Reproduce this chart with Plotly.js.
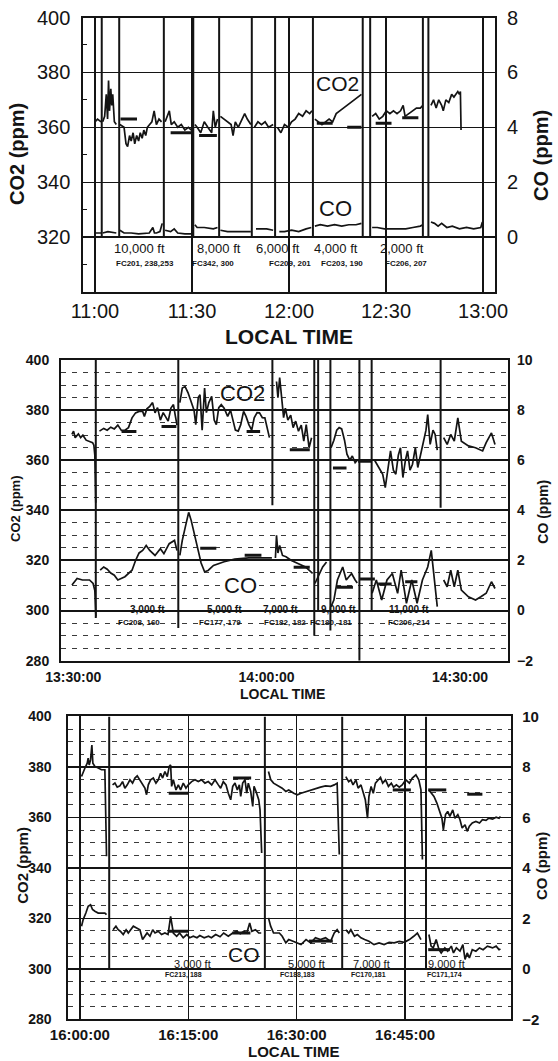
<!DOCTYPE html>
<html><head><meta charset="utf-8">
<script src="https://cdn.plot.ly/plotly-3.0.1.min.js"></script>
<style>html,body{margin:0;padding:0;background:#fff}#chart{width:558px;height:1061px}</style>
</head><body><div id="chart"></div>
<script>
// ---------------- DATA (time in minutes after the first tick of each panel) ----------------
// Panel 1 : 11:00 - 13:00
const p1_ticks = [0, 30, 60, 90, 120];
const p1_tick_labels = ['11:00', '11:30', '12:00', '12:30', '13:00'];
const p1_co2_t = [0.0,0.8,1.9,null,
 2.4,3.0,3.5,3.9,4.2,4.5,4.9,5.2,5.5,6.0,6.6,null,
 7.7,9.0,9.6,10.1,10.7,11.2,11.8,12.3,12.9,13.5,14.0,14.6,15.1,15.7,16.2,16.8,17.6,18.3,19.0,19.8,20.6,null,
 21.7,22.3,23.0,23.6,24.5,25.6,26.7,27.8,28.9,29.8,null,
 30.9,31.6,32.7,33.8,34.9,36.1,36.6,37.2,37.9,null,
 38.8,39.9,41.0,42.1,42.7,43.4,44.3,45.4,46.3,47.1,48.2,null,
 49.3,50.4,51.5,52.6,53.7,55.1,null,
 56.4,57.5,58.6,59.8,60.8,61.9,63.0,64.2,65.3,66.4,67.1,null,
 68.0,69.1,70.2,71.3,72.4,73.5,74.6,75.7,76.8,78.0,79.1,80.2,81.3,82.4,null,
 85.7,86.8,87.9,89.0,90.1,91.2,92.3,93.4,94.5,95.3,95.9,97.0,98.3,99.4,100.6,101.4,null,
 103.9,104.7,105.5,106.3,107.2,107.7,108.5,109.4,110.3,111.0,112.2,112.7,113.0,113.2];
const p1_co2 = [362,363,362,null,
 362,364,372,363,377,366,374,368,372,362,361,null,
 361,360,354,353,357,355,358,354,357,355,358,356,359,357,360,361,362,366,361,363,362,null,
 362,364,366,361,362,360,361,359,360,359,null,
 361,360,358,362,360,358,366,360,363,null,
 364,363,362,361,357,362,360,363,365,363,361,null,
 360,362,361,362,360,361,null,
 360,358,361,360,362,363,365,364,366,365,366,null,
 363,362,361,362,363,362,365,366,367,368,369,370,371,372,null,
 364,365,363,364,366,365,366,365,366,368,364,365,366,367,367,368,null,
 368,370,367,370,368,366,370,369,372,371,373,372,373,359];
const p1_co_t = [0.2,1.9,null,
 2.4,4.0,6.6,null,
 7.7,9.0,11.2,13.5,16.8,17.9,18.4,19.0,20.1,20.8,null,
 21.7,23.4,24.5,25.6,27.8,29.8,null,
 30.9,31.6,33.8,36.6,37.9,null,
 38.8,41.0,43.2,46.5,48.2,null,
 49.8,51.5,53.1,55.1,null,
 57.0,58.6,60.8,63.0,65.3,66.9,null,
 68.0,69.7,71.9,74.1,76.3,78.5,80.7,82.4,null,
 85.7,87.3,89.5,91.7,93.9,96.1,98.3,100.6,101.4,null,
 103.9,105.0,106.1,107.2,108.8,110.5,112.7,114.9,117.1,119.3,119.8];
const p1_co = [0.15,0.15,null,
 0.15,0.2,0.15,null,
 0.25,0.15,0.15,0.12,0.15,0.35,0.15,0.15,0.2,0.5,null,
 0.25,0.2,0.3,0.15,0.12,0.12,null,
 0.45,0.35,0.35,0.3,0.35,null,
 0.25,0.2,0.2,0.2,0.2,null,
 0.3,0.3,0.3,0.25,null,
 0.2,0.2,0.25,0.2,0.3,0.35,null,
 0.4,0.45,0.4,0.45,0.4,0.45,0.45,0.5,null,
 0.35,0.35,0.3,0.3,0.3,0.3,0.35,0.4,0.45,null,
 0.55,0.5,0.4,0.5,0.35,0.4,0.3,0.35,0.3,0.35,0.55];
const p1_cal_t = [2.1, 7.5, 21.3, 30.4, 38.4, 48.5, 55.7, 67.4, 82.8, 85.1, 101.4, 103.1];
const p1_flask_t0 = [7.9, 23.4, 32.2, 68.6, 78.0, 86.8, 95.0];
const p1_flask_t1 = [13.0, 30.0, 37.7, 73.5, 82.4, 91.7, 100.0];
const p1_flask_co2 = [363, 358, 357, 361.5, 360, 361.5, 363.5];
const p1_alt_labels = ['10,000 ft', '8,000 ft', '6,000 ft', '4,000 ft', '2,000 ft'];
const p1_alt_t = [13.9, 38.4, 56.6, 74.5, 95.0];
const p1_fc_labels = ['FC201, 238,253', 'FC342, 300', 'FC209, 201', 'FC203, 190', 'FC206, 207'];
const p1_fc_t = [15.5, 36.5, 60.3, 76.4, 96.1];

// Panel 2 : 13:30 - 14:35
const p2_ticks = [0, 30, 60];
const p2_tick_labels = ['13:30:00', '14:00:00', '14:30:00'];
const p2_co2_t = [-0.2,0.05,0.3,0.8,1.15,1.5,2.0,2.5,3.0,3.2,3.35,3.5,null,
 4.07,4.73,5.27,5.82,6.37,6.92,7.47,8.02,8.57,9.12,9.67,10.22,10.77,11.04,11.43,11.87,12.31,12.69,13.08,13.52,13.96,14.34,14.73,15.16,15.55,15.82,16.1,null,
 16.54,16.92,17.36,17.8,18.19,18.74,19.01,19.4,19.67,20.0,20.38,20.66,21.04,21.48,21.87,22.2,22.58,22.97,23.41,23.96,24.4,24.78,25.16,25.6,25.99,26.43,26.81,27.25,27.69,28.08,28.52,28.9,29.34,29.73,30.11,30.44,null,
 31.54,31.76,32.03,32.31,32.64,32.91,33.3,33.74,34.12,34.51,34.95,35.38,35.77,36.15,36.59,36.98,null,
 40.0,40.44,40.88,41.26,41.65,42.09,42.47,42.91,43.3,43.74,44.07,null,
 46.76,47.14,47.58,48.02,48.41,48.79,49.23,49.67,50.05,50.44,50.77,51.15,51.54,51.87,52.25,52.64,53.08,53.46,53.9,54.29,54.73,55.0,55.38,55.82,56.15,56.48,null,
 57.47,58.02,58.57,59.12,59.67,60.22,61.32,62.42,63.52,64.07,64.89,65.44];
const p2_co2 = [370.3,371.6,369,370.5,369,370,368,367.6,367,366,362,343,null,
 371.6,372.7,372,373.2,372.5,374,371.9,372,373,376.9,378.9,379.5,379.5,377.5,380.5,381.5,383,378.9,381,376,379,377.5,375.6,380.8,382.2,378,374,null,
 383,388.8,389.4,387,384.1,380,374.2,385,386.1,372,388.8,379,383,385.5,376,374.2,381,382.2,380.8,377.5,380,375.6,372,371.6,374.2,379.5,377.5,374.2,372,376.9,379,378.9,377,376.9,372,369,null,
 391.4,385,393,384.8,377,380.8,376,378,373,375.6,371.6,374,367.6,374.2,365,369,null,
 365,368,372,373,372.5,368,362.4,360,361.7,359,360,null,
 360,358.4,356,354.4,349.1,355,363.7,356,354.4,362,365,353.1,360,363.7,356,358.4,365,357.1,362,367.6,372,378.2,366.3,372,370.3,364,null,
 369,366.3,370.3,367.6,376.9,367.6,365.7,365,363.7,367,370.9,366.3];
const p2_co_t = [-0.2,0.6,1.43,2.53,3.08,3.35,3.52,null,
 4.18,4.73,5.27,5.82,6.37,6.92,8.02,9.12,9.67,10.22,10.77,11.32,11.87,12.69,13.52,14.07,14.89,15.71,16.1,null,
 16.54,16.92,17.36,17.91,18.3,18.74,19.29,19.84,20.38,20.93,21.76,23.41,25.05,27.25,29.45,30.82,null,
 31.37,31.54,31.76,32.03,32.47,33.02,33.85,34.95,36.04,37.14,null,
 37.5,38.2,38.7,39.3,null,
 40.0,40.44,40.99,41.81,42.36,43.19,43.74,44.07,null,
 46.37,47.03,47.86,48.68,49.51,50.33,50.88,51.7,52.53,53.35,54.18,55.0,55.55,56.1,56.48,null,
 57.47,58.02,58.57,59.12,59.67,60.22,61.32,62.42,63.24,64.07,64.89,65.44];
const p2_co = [1.02,1.28,1.22,1.22,1.08,0.8,-0.24,null,
 1.61,1.74,1.65,1.5,1.41,1.22,1.35,1.61,2.0,2.3,2.4,2.6,2.4,2.2,2.47,2.27,2.67,2.8,2.4,null,
 2.2,2.8,3.3,3.92,3.6,3.1,2.5,1.9,1.55,1.6,1.8,1.95,2.05,2.1,2.1,2.1,null,
 2.1,3.0,2.3,2.6,2.2,2.15,2.0,1.87,1.74,1.48,null,
 1.08,1.5,1.74,1.94,null,
 0.16,0.42,1.22,1.74,1.22,1.48,1.22,1.1,null,
 0.69,1.22,0.42,1.22,1.48,0.69,1.61,0.29,1.22,0.29,1.22,1.74,2.4,1.22,0.16,null,
 1.22,0.95,1.61,0.95,1.61,0.82,0.55,0.42,0.55,0.69,1.15,0.88];
const p2_cal_t = [3.5, 16.3, 30.9, 37.4, 38.0, 39.9, 44.4, 46.3, 57.0];
const p2_cal_low = [297, 293, 342, 290, 300, 292, 280, 300, 341];
const p2_flask_t0 = [7.5, 13.7, 26.9, 33.6, 40.3, 44.2];
const p2_flask_t1 = [9.8, 16.0, 29.0, 36.7, 42.4, 46.3];
const p2_flask_co2 = [371.5, 373.5, 371.5, 364.2, 356.9, 359.6];
const p2_cof_t0 = [19.7, 26.6, 34.2, 40.9, 44.5, 47.3, 51.5];
const p2_cof_t1 = [22.2, 29.2, 36.7, 43.4, 46.8, 49.4, 53.4];
const p2_flask_co = [2.49, 2.21, 1.73, 0.93, 1.26, 1.06, 1.15];
const p2_alt_labels = ['3,000 ft', '5,000 ft', '7,000 ft', '9,000 ft', '11,000 ft'];
const p2_alt_t = [11.5, 23.4, 32.2, 41.1, 52.1];
const p2_fc_labels = ['FC208, 160', 'FC177, 179', 'FC182, 182', 'FC180, 181', 'FC206, 214'];
const p2_fc_t = [10.2, 22.8, 32.8, 40.0, 52.1];

// Panel 3 : 16:00 - 17:00
const p3_ticks = [0, 15, 30, 45];
const p3_tick_labels = ['16:00:00', '16:15:00', '16:30:00', '16:45:00'];
const p3_co2_t = [0.23,0.46,0.69,1.02,1.15,1.29,1.48,1.66,1.8,2.08,2.54,3.0,3.46,3.69,null,
 4.52,4.85,5.17,5.54,5.91,6.23,6.56,6.93,7.29,7.62,7.94,8.31,8.68,9.0,9.23,9.47,9.79,10.16,10.53,10.85,11.17,11.45,11.77,12.09,12.37,12.56,12.7,12.93,13.3,13.62,13.94,14.31,14.68,15.0,15.47,15.93,16.39,16.85,17.31,17.77,18.24,18.7,19.16,19.48,19.85,20.22,20.54,20.87,21.15,21.47,21.79,22.07,22.26,22.53,22.85,23.09,23.31,23.64,23.92,24.1,24.38,24.56,24.75,24.93,25.16,null,
 26.1,26.4,26.8,27.2,27.6,28.0,28.5,28.9,29.6,30.1,30.6,31.3,31.95,32.6,33.3,34.0,34.7,35.2,35.6,35.9,null,
 36.8,37.2,37.5,37.8,38.2,38.5,38.9,39.2,39.5,39.8,40.0,40.3,40.6,40.9,41.3,41.6,41.9,42.3,42.7,43.1,43.4,43.8,44.2,44.6,45.1,45.6,46.0,46.5,46.9,47.2,47.4,null,
 48.3,48.7,49.0,49.4,49.7,50.1,50.3,50.6,50.9,51.2,51.6,51.9,52.3,52.6,52.9,53.3,53.6,53.9,54.3,54.8,55.3,55.7,56.2,56.6,57.1,57.6,58.0,58.2];
const p3_co2 = [376.2,378.2,379.5,381.5,383.5,380.8,382.8,388.7,381.5,380.2,379.5,378.9,378.9,344.6,null,
 372.9,373.6,372,372.5,374.2,371.6,372.9,374.9,373.6,375.6,376.5,374.9,372.9,371.6,369,372.9,374.9,375.6,373.6,374.9,377.5,375.6,378.2,376.2,380.2,380.8,372.3,374.9,370.9,372.9,370.9,373.6,371.6,372.9,374.2,374.9,374.2,374.9,373.6,374.2,372.9,374.9,372.9,371.6,374.2,372.9,369.6,367,372.3,373.6,370.9,372.9,368.3,373.6,374.9,369.6,373.6,370.3,364.4,372.3,370.3,368.3,367,363,345.9,null,
 378.2,375,373.6,372.9,372.3,371.6,370.3,370.9,369.6,369,369.6,370.3,370.9,371.6,372,372.5,372.3,372.9,373.6,345.3,null,
 376.2,374.2,374.9,372.9,374.9,371.6,372.9,369.6,367,359.7,368.3,372.3,369.6,373.6,374.9,375.9,373.6,374.9,372.3,373.6,372,372.9,372,372.9,374.9,373.6,375.6,376.9,374.9,370.9,343.3,null,
 370.9,369.6,368.3,365.7,363,359.7,355.1,361.1,362.4,360.4,363,359.7,361.1,359.1,355.8,357.1,354.5,356.5,357.8,358.4,357.8,359.1,358.8,359.7,359.3,360.1,359.7,360.4];
const p3_co_t = [0.23,0.46,0.83,1.15,1.48,1.75,2.08,2.54,3.0,3.46,3.69,null,
 4.6,4.99,5.3,5.6,6.0,6.4,6.7,7.0,7.4,7.85,8.31,8.68,9.0,9.3,9.7,10.08,10.4,10.85,11.3,11.77,12.2,12.56,12.93,13.4,13.8,14.3,14.8,15.2,15.7,16.2,16.6,17.2,17.8,18.2,18.8,19.4,19.9,20.54,21.15,21.7,22.2,22.7,23.1,23.5,23.8,24.3,24.75,25.1,null,
 26.1,26.4,26.8,27.2,27.6,28.0,28.5,28.9,29.6,30.1,30.6,31.3,31.95,32.6,33.3,34.0,34.7,35.2,35.6,35.9,null,
 36.8,37.2,37.5,38.0,38.4,38.9,39.4,40.0,40.7,41.4,42.1,42.8,43.5,44.2,44.9,45.6,46.2,46.7,47.2,null,
 48.3,48.6,48.9,49.3,49.7,50.0,50.5,50.9,51.4,51.7,52.1,52.6,53.0,53.3,53.6,53.9,54.3,54.8,55.3,55.8,56.4,57.1,57.6,58.0,58.2];
const p3_co = [1.69,1.95,2.21,2.48,2.54,2.35,2.28,2.21,2.21,2.21,2.15,null,
 1.55,1.69,1.55,1.49,1.36,1.55,1.42,1.55,1.69,1.62,1.55,1.16,1.29,1.42,1.29,1.55,1.42,1.49,1.36,1.42,1.36,2.08,1.42,1.29,1.42,1.23,1.36,1.23,1.29,1.23,1.32,1.23,1.29,1.23,1.36,1.27,1.42,1.29,1.42,1.49,1.39,1.49,1.42,1.82,1.49,1.55,1.42,1.42,null,
 2.02,1.69,1.42,1.42,1.42,1.29,1.03,1.16,1.09,1.03,0.96,1.16,1.03,1.23,1.16,1.23,1.09,1.42,1.55,1.42,null,
 1.55,1.42,1.55,1.29,1.36,1.23,1.16,1.09,0.96,1.03,0.96,1.05,1.03,1.09,1.05,1.16,1.29,1.42,1.16,null,
 1.36,0.9,0.83,1.16,0.76,0.63,0.83,0.7,0.9,0.63,0.83,0.7,0.96,0.37,0.63,0.43,0.76,0.7,0.83,0.76,0.9,0.83,0.9,0.76,0.79];
const p3_cal_t = [4.06, 25.6, 36.3, 47.9];
const p3_flask_t0 = [12.3, 21.2, 43.3, 48.2, 53.6];
const p3_flask_t1 = [15.0, 23.7, 45.8, 50.7, 55.7];
const p3_flask_co2 = [369.6, 375.6, 370.9, 370.9, 369.2];
const p3_cof_t0 = [12.3, 21.1, 31.7, 48.2];
const p3_cof_t1 = [15.0, 23.6, 35.0, 51.2];
const p3_flask_co = [1.49, 1.42, 1.1, 0.76];
const p3_alt_labels = ['3,000 ft', '5,000 ft', '7,000 ft', '9,000 ft'];
const p3_alt_t = [15.65, 31.3, 40.3, 50.7];
const p3_fc_labels = ['FC213, 188', 'FC188,183', 'FC170,181', 'FC171,174'];
const p3_fc_t = [14.4, 30.1, 39.9, 50.4];

// ---------------- BUILD ----------------
const FONT = 'Liberation Sans, Arial, Helvetica, sans-serif';
const INK = '#141414';

function line(x, y, xa, ya, w) {
  return {type: 'scatter', mode: 'lines', x: x, y: y, xaxis: xa, yaxis: ya,
          line: {color: INK, width: w}, connectgaps: false, hoverinfo: 'skip'};
}
function calTrace(ts, lows, high, xa, ya) {
  const x = [], y = [];
  ts.forEach((t, i) => { x.push(t, t, null); y.push(Array.isArray(lows) ? lows[i] : lows, high, null); });
  return line(x, y, xa, ya, 2);
}
function barTrace(t0, t1, v, xa, ya) {
  const x = [], y = [];
  v.forEach((val, i) => { x.push(t0[i], t1[i], null); y.push(val, val, null); });
  return line(x, y, xa, ya, 3);
}

const traces = [
  line(p1_co2_t, p1_co2, 'x', 'y', 1.7),
  line(p1_co_t, p1_co, 'x', 'y2', 1.7),
  calTrace(p1_cal_t, 320, 400, 'x', 'y'),
  barTrace(p1_flask_t0, p1_flask_t1, p1_flask_co2, 'x', 'y'),

  line(p2_co2_t, p2_co2, 'x2', 'y3', 1.7),
  line(p2_co_t, p2_co, 'x2', 'y4', 1.7),
  calTrace(p2_cal_t, p2_cal_low, 400, 'x2', 'y3'),
  barTrace(p2_flask_t0, p2_flask_t1, p2_flask_co2, 'x2', 'y3'),
  barTrace(p2_cof_t0, p2_cof_t1, p2_flask_co, 'x2', 'y4'),

  line(p3_co2_t, p3_co2, 'x3', 'y5', 1.7),
  line(p3_co_t, p3_co, 'x3', 'y6', 1.7),
  calTrace(p3_cal_t, 300, 400, 'x3', 'y5'),
  barTrace(p3_flask_t0, p3_flask_t1, p3_flask_co2, 'x3', 'y5'),
  barTrace(p3_cof_t0, p3_cof_t1, p3_flask_co, 'x3', 'y6')
];

function tf(size, bold) { return {family: FONT, size: size, color: INK, weight: bold ? 'bold' : 'normal'}; }

const baseX = {showline: true, linecolor: INK, linewidth: 2, mirror: true, zeroline: false,
  ticks: 'outside', tickcolor: 'rgba(0,0,0,0)', fixedrange: true, tickmode: 'array'};
const baseY = {showline: true, linecolor: INK, linewidth: 2, mirror: true, zeroline: false,
  ticks: 'outside', tickcolor: 'rgba(0,0,0,0)', fixedrange: true, tickmode: 'array', gridcolor: INK};
const baseR = {overlaying: null, side: 'right', showgrid: false, zeroline: false, showline: false,
  ticks: 'outside', tickcolor: 'rgba(0,0,0,0)', fixedrange: true, tickmode: 'array'};

const layout = {
  width: 558, height: 1061, margin: {l: 0, r: 0, t: 0, b: 0},
  paper_bgcolor: '#fff', plot_bgcolor: '#fff', showlegend: false,
  // Panel 1
  xaxis: Object.assign({}, baseX, {domain: [0.1493, 0.8871], range: [-3.6, 123.7], anchor: 'y',
    tickvals: p1_ticks, ticktext: p1_tick_labels, ticks: '', ticklen: 0, showgrid: true, gridcolor: INK, gridwidth: 1.3,
    tickfont: tf(20, false)}),
  yaxis: Object.assign({}, baseY, {domain: [0.7248, 0.9835], range: [300, 400], anchor: 'x',
    tickvals: [320, 340, 360, 380, 400], ticklen: 7, showgrid: true, gridwidth: 1.3, tickfont: tf(20, false),
    minor: {tickvals: [310, 330, 350, 370, 390], ticks: 'inside', ticklen: 4, tickcolor: INK, showgrid: false}}),
  yaxis2: Object.assign({}, baseR, {overlaying: 'y', anchor: 'x', range: [-2, 8],
    tickvals: [0, 2, 4, 6, 8], ticklen: 7, tickfont: tf(20, false)}),
  // Panel 2
  xaxis2: Object.assign({}, baseX, {domain: [0.1093, 0.9109], range: [-1.9, 67.5], anchor: 'y3',
    tickvals: p2_ticks, ticktext: p2_tick_labels, ticklen: 3, showgrid: false, tickfont: tf(14, true)}),
  yaxis3: Object.assign({}, baseY, {domain: [0.3773, 0.6607], range: [280, 400], anchor: 'x2',
    tickvals: [280, 300, 320, 340, 360, 380, 400], ticklen: 7, showgrid: true, gridwidth: 2, tickfont: tf(14, true),
    minor: {dtick: 5, showgrid: true, gridcolor: '#3a3a3a', gridwidth: 1, griddash: '5px,6px', ticks: ''}}),
  yaxis4: Object.assign({}, baseR, {overlaying: 'y3', anchor: 'x2', range: [-2, 10],
    tickvals: [-2, 0, 2, 4, 6, 8, 10], ticklen: 5, tickfont: tf(14, true)}),
  // Panel 3
  xaxis3: Object.assign({}, baseX, {domain: [0.1224, 0.9163], range: [-1.6, 59.7], anchor: 'y5',
    tickvals: p3_ticks, ticktext: p3_tick_labels, ticklen: 1, showgrid: true, gridcolor: INK, gridwidth: 1.3,
    tickfont: tf(15, true)}),
  yaxis5: Object.assign({}, baseY, {domain: [0.0393, 0.3247], range: [280, 400], anchor: 'x3',
    tickvals: [280, 300, 320, 340, 360, 380, 400], ticklen: 12, showgrid: true, gridwidth: 1.6, tickfont: tf(14, true),
    minor: {dtick: 5, showgrid: true, gridcolor: '#3a3a3a', gridwidth: 1, griddash: '5px,6px', ticks: ''}}),
  yaxis6: Object.assign({}, baseR, {overlaying: 'y5', anchor: 'x3', range: [-2, 10],
    tickvals: [-2, 0, 2, 4, 6, 8, 10], ticklen: 7, tickfont: tf(15, true)}),
  annotations: []
};

const ann = layout.annotations;
function txt(text, x, y, xref, yref, font, extra) {
  ann.push(Object.assign({text: text, x: x, y: y, xref: xref, yref: yref, showarrow: false,
    xanchor: 'center', yanchor: 'middle', font: font}, extra || {}));
}
// axis titles
txt('LOCAL TIME', 0.5174, 0.6827, 'paper', 'paper', tf(21, true));
txt('CO2 (ppm)', 0.0305, 0.8549, 'paper', 'paper', tf(20, true), {textangle: -90});
txt('CO (ppm)', 0.9695, 0.8539, 'paper', 'paper', tf(20, true), {textangle: -90});
txt('LOCAL TIME', 0.5054, 0.3462, 'paper', 'paper', tf(14, true));
txt('CO2 (ppm)', 0.0287, 0.5203, 'paper', 'paper', tf(13, true), {textangle: -90});
txt('CO (ppm)', 0.9737, 0.5180, 'paper', 'paper', tf(14, true), {textangle: -90});
txt('LOCAL TIME', 0.5251, 0.0092, 'paper', 'paper', tf(15, true));
txt('CO2 (ppm)', 0.0389, 0.1847, 'paper', 'paper', tf(15, true), {textangle: -90});
txt('CO (ppm)', 0.9713, 0.1838, 'paper', 'paper', tf(15, true), {textangle: -90});
// series labels
txt('CO2', 75.0, 376.0, 'x', 'y', tf(21, false));
txt('CO', 74.4, 330.5, 'x', 'y', tf(22, false));
txt('CO2', 26.2, 386.7, 'x2', 'y3', tf(22, false));
txt('CO', 25.9, 309.9, 'x2', 'y3', tf(22, false), {bgcolor: '#fff'});
txt('CO', 22.7, 305.7, 'x3', 'y5', tf(21, false));
// altitude / flask labels
p1_alt_labels.forEach((s, i) => txt(s, p1_alt_t[i], 315.7, 'x', 'y', tf(13, false)));
p1_fc_labels.forEach((s, i) => txt(s, p1_fc_t[i], 310.5, 'x', 'y', tf(8, true)));
p2_alt_labels.forEach((s, i) => txt(s, p2_alt_t[i], 300.5, 'x2', 'y3', tf(10, true)));
p2_fc_labels.forEach((s, i) => txt(s, p2_fc_t[i], 295.4, 'x2', 'y3', tf(8, true)));
p3_alt_labels.forEach((s, i) => txt(s, p3_alt_t[i], 302.0, 'x3', 'y5', tf(11, false)));
p3_fc_labels.forEach((s, i) => txt(s, p3_fc_t[i], 297.4, 'x3', 'y5', tf(7, true)));

Plotly.newPlot('chart', traces, layout, {displayModeBar: false, staticPlot: true});
</script>
</body></html>
